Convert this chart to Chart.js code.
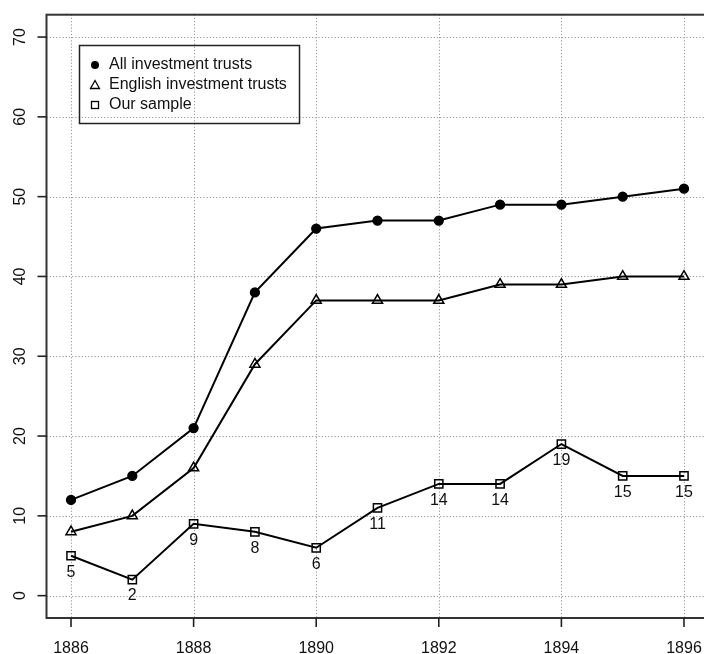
<!DOCTYPE html>
<html><head><meta charset="utf-8">
<script src="https://cdn.jsdelivr.net/npm/chart.js@4/dist/chart.umd.min.js"></script>
<style>html,body{margin:0;padding:0;background:#fff;overflow:hidden}
#wrap{width:720px;height:654px;position:relative}</style></head>
<body><div id="wrap"><canvas id="c" width="720" height="654"></canvas></div>
<script>
const years = [1886,1887,1888,1889,1890,1891,1892,1893,1894,1895,1896];
const allTrusts = [12,15,21,38,46,47,47,49,49,50,51];
const englishTrusts = [8,10,16,29,37,37,37,39,39,40,40];
const ourSample = [5,2,9,8,6,11,14,14,19,15,15];
const seriesNames = ['All investment trusts','English investment trusts','Our sample'];
const xTicks = [1886,1888,1890,1892,1894,1896];
const yTicks = [0,10,20,30,40,50,60,70];

const FONT = '16px "Liberation Sans", Arial, sans-serif';
const toPts = arr => arr.map((v,i)=>({x:years[i], y:v}));

const styles = [
  {pointStyle:'circle', pointRadius:4.4, pointBackgroundColor:'#000'},
  {pointStyle:'triangle', pointRadius:5.8, pointBackgroundColor:'rgba(0,0,0,0)'},
  {pointStyle:'rect', pointRadius:5.8, pointBackgroundColor:'rgba(0,0,0,0)'}
];
const seriesData = [allTrusts, englishTrusts, ourSample];

const decor = {
  id:'decor',
  beforeDatasetsDraw(chart){
    const {ctx, chartArea:a, scales:{x,y}} = chart;
    ctx.save();
    ctx.strokeStyle = '#999'; ctx.lineWidth = 1; ctx.setLineDash([1.2,2]);
    xTicks.forEach(t=>{const px=Math.round(x.getPixelForValue(t))+0.5;
      ctx.beginPath(); ctx.moveTo(px,a.top); ctx.lineTo(px,a.bottom); ctx.stroke();});
    yTicks.forEach(t=>{const py=Math.round(y.getPixelForValue(t))+0.5;
      ctx.beginPath(); ctx.moveTo(a.left,py); ctx.lineTo(a.right,py); ctx.stroke();});
    ctx.restore();
  },
  afterDatasetsDraw(chart){
    const {ctx, chartArea:a, scales:{x,y}} = chart;
    ctx.save();
    ctx.setLineDash([]);
    ctx.strokeStyle = '#333'; ctx.lineWidth = 2;
    ctx.strokeRect(a.left, a.top, a.right-a.left, a.bottom-a.top);
    ctx.lineWidth = 1.6; ctx.strokeStyle='#222';
    xTicks.forEach(t=>{const px=x.getPixelForValue(t);
      ctx.beginPath(); ctx.moveTo(px,a.bottom); ctx.lineTo(px,a.bottom+9); ctx.stroke();});
    yTicks.forEach(t=>{const py=y.getPixelForValue(t);
      ctx.beginPath(); ctx.moveTo(a.left,py); ctx.lineTo(a.left-9,py); ctx.stroke();});
    ctx.fillStyle='#111'; ctx.font=FONT;
    ctx.textAlign='center'; ctx.textBaseline='alphabetic';
    xTicks.forEach(t=>ctx.fillText(String(t), x.getPixelForValue(t), 653));
    yTicks.forEach(t=>{
      ctx.save(); ctx.translate(25, y.getPixelForValue(t)); ctx.rotate(-Math.PI/2);
      ctx.fillText(String(t),0,0); ctx.restore();
    });
    const meta = chart.getDatasetMeta(2);
    meta.data.forEach((p,i)=>ctx.fillText(String(ourSample[i]), p.x, p.y+20.8));
    ctx.lineWidth=1.5; ctx.strokeStyle='#222';
    ctx.strokeRect(79.5,45.5,220,78);
    const rows=[65,85,105];
    ctx.textAlign='left'; ctx.textBaseline='middle';
    rows.forEach((ry,i)=>ctx.fillText(seriesNames[i],109,ry));
    ctx.lineWidth=1.3; ctx.strokeStyle='#000'; ctx.fillStyle='#000';
    ctx.beginPath(); ctx.arc(95,rows[0],4,0,Math.PI*2); ctx.fill();
    ctx.beginPath(); ctx.moveTo(95,rows[1]-4.5); ctx.lineTo(99.5,rows[1]+3.5); ctx.lineTo(90.5,rows[1]+3.5); ctx.closePath(); ctx.stroke();
    ctx.strokeRect(91.5,rows[2]-3.5,7,7);
    ctx.restore();
  }
};

new Chart(document.getElementById('c'), {
  type:'line',
  data:{datasets: seriesData.map((d,i)=>Object.assign({
    label: seriesNames[i], data: toPts(d),
    borderColor:'#000', borderWidth:2, pointBorderColor:'#000', pointBorderWidth:1.5,
    fill:false, tension:0
  }, styles[i]))},
  options:{
    responsive:false, animation:false, devicePixelRatio:1,
    layout:{padding:{left:46.5, top:14.7, right:11.5, bottom:36}},
    plugins:{legend:{display:false}, tooltip:{enabled:false}},
    scales:{
      x:{type:'linear', min:1885.6, max:1896.4, display:false},
      y:{type:'linear', min:-2.8, max:72.8, display:false}
    }
  },
  plugins:[decor]
});
</script></body></html>
